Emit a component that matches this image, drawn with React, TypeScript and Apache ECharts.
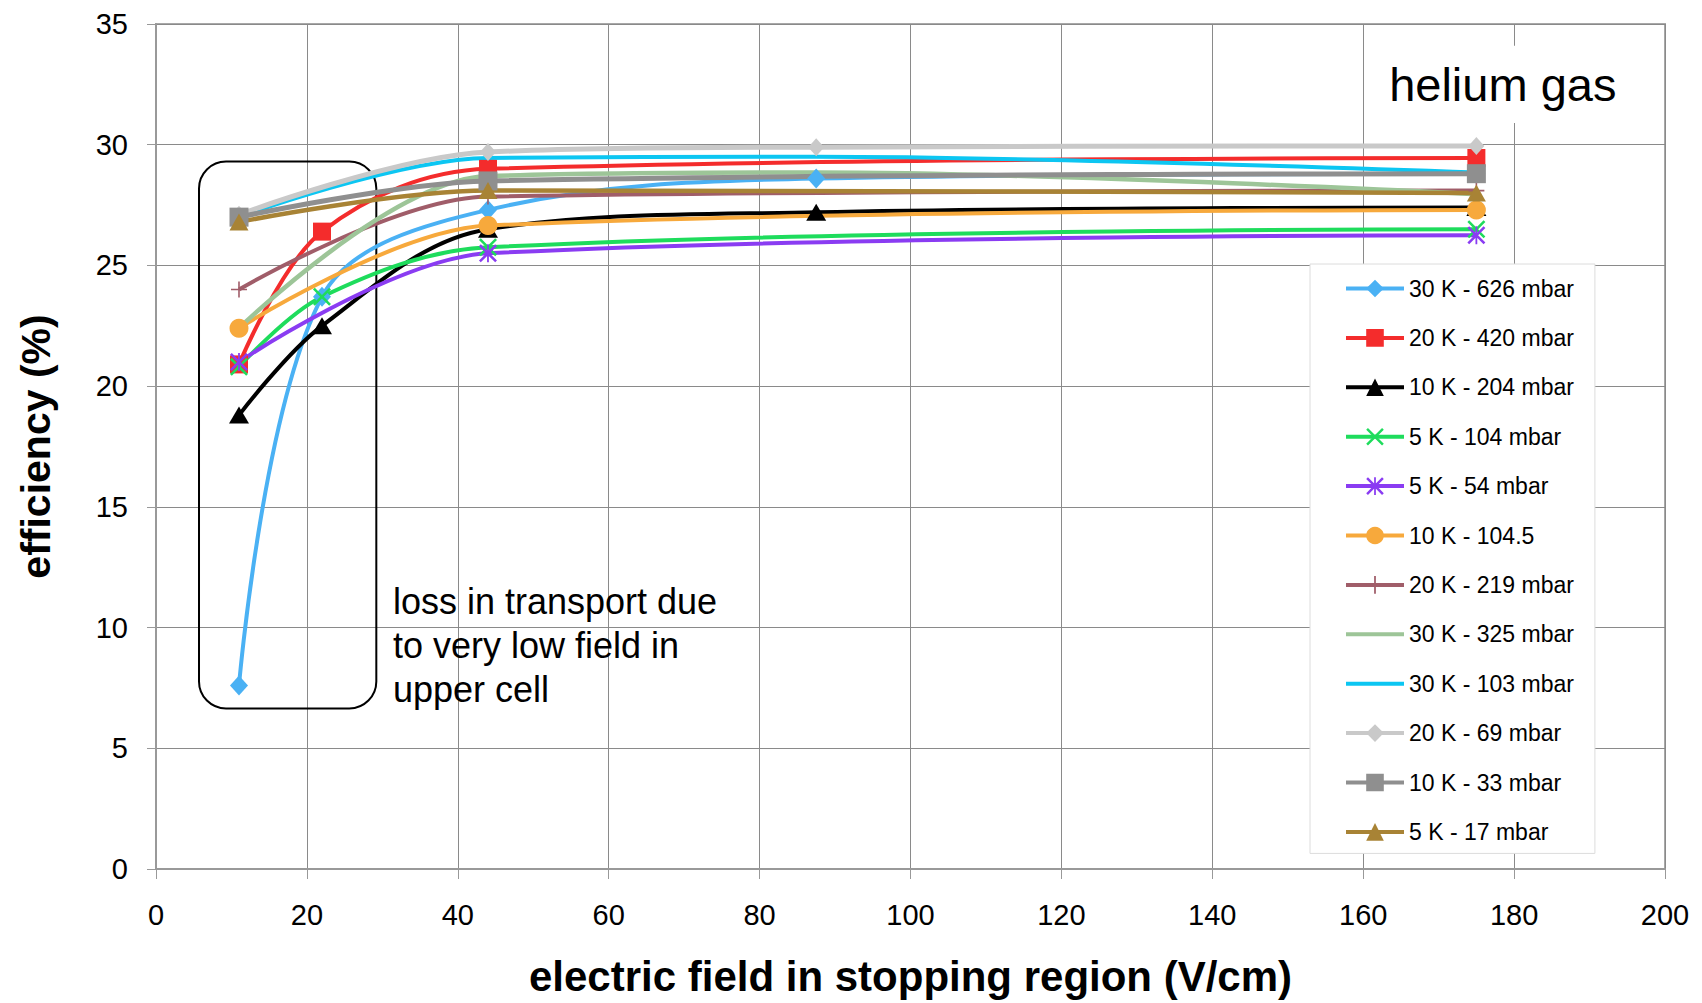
import React, { useEffect, useRef } from "react";
import * as echarts from "echarts";

// Electric field values (V/cm) at which the efficiency was measured
const fieldFull = [11, 22, 44, 87.5, 175];
const fieldMid = [11, 22, 44, 175];
const fieldShort = [11, 44, 175];
const fieldNoMarker = [11, 44, 87.5, 175];

// Efficiency (%) per gas condition
const eff30K626 = [7.6, 23.7, 27.3, 28.6, 28.8];
const eff20K420 = [20.9, 26.4, 29.0, 29.45];
const eff10K204 = [18.8, 22.5, 26.5, 27.2, 27.4];
const eff5K104 = [20.8, 23.7, 25.75, 26.5];
const eff5K54 = [21.0, 25.5, 26.25];
const eff10K1045 = [22.4, 26.65, 27.3];
const eff20K219 = [24.0, 27.85, 28.1];
const eff30K325 = [22.4, 28.7, 28.85, 27.95];
const eff30K103 = [27.0, 29.45, 29.5, 28.85];
const eff20K69 = [27.1, 29.7, 29.9, 29.95];
const eff10K33 = [27.0, 28.5, 28.8];
const eff5K17 = [26.8, 28.1, 28.0];

const yTicks = { min: 0, max: 35, interval: 5 };
const xTicks = { min: 0, max: 200, interval: 20 };

const FONT = "'Liberation Sans', Arial, sans-serif";

// Filled outlines for the stroke-like markers
const crossPath =
  "path://M2,0 L10,8 L18,0 L20,2 L12,10 L20,18 L18,20 L10,12 L2,20 L0,18 L8,10 L0,2 Z";
const asteriskPath =
  "path://M2,0 L10,8 L18,0 L20,2 L12,10 L20,18 L18,20 L10,12 L2,20 L0,18 L8,10 L0,2 Z M9,0 L11,0 L11,20 L9,20 Z";
const plusPath =
  "path://M9,0 L11,0 L11,9 L20,9 L20,11 L11,11 L11,20 L9,20 L9,11 L0,11 L0,9 L9,9 Z";
// Plain line legend icon (tiny corner ticks keep the full icon box)
const plainLineIcon =
  "path://M0,9 L58,9 L58,13 L0,13 Z M0,0 L0.01,0 L0,0.01 Z M58,22 L57.99,22 L58,21.99 Z";

const LINE_W = 4;

function lineSeries(
  name: string,
  xs: number[],
  ys: number[],
  color: string,
  symbol: string,
  symbolSize: number | number[],
  width = LINE_W
) {
  return {
    type: "line",
    name,
    data: xs.map((x, i) => [x, ys[i]]),
    smooth: 0.35,
    symbol,
    symbolSize,
    showSymbol: symbol !== "none",
    lineStyle: { color, width },
    itemStyle: { color, borderWidth: 0 },
    emphasis: { disabled: true },
  };
}

const seriesList = [
  lineSeries("30 K - 626 mbar", fieldFull, eff30K626, "#4AB1F4", "diamond", [18, 20]),
  lineSeries("20 K - 420 mbar", fieldMid, eff20K420, "#F42C2C", "rect", 18),
  lineSeries("10 K - 204 mbar", fieldFull, eff10K204, "#000000", "triangle", [20, 17]),
  lineSeries("5 K - 104 mbar", fieldMid, eff5K104, "#1EDC5C", crossPath, 18),
  lineSeries("5 K - 54 mbar", fieldShort, eff5K54, "#8A3CF2", asteriskPath, 18),
  lineSeries("10 K - 104.5", fieldShort, eff10K1045, "#F7A93C", "circle", 19),
  lineSeries("20 K - 219 mbar", fieldShort, eff20K219, "#A05D69", plusPath, 16),
  lineSeries("30 K - 325 mbar", fieldNoMarker, eff30K325, "#9DC598", "none", 0, 4.5),
  lineSeries("30 K - 103 mbar", fieldNoMarker, eff30K103, "#0CC6F2", "none", 0, 4),
  lineSeries("20 K - 69 mbar", fieldNoMarker, eff20K69, "#C9C9C9", "diamond", [16, 18], 5),
  lineSeries("10 K - 33 mbar", fieldShort, eff10K33, "#8F8F8F", "rect", 19, 5),
  lineSeries("5 K - 17 mbar", fieldShort, eff5K17, "#A88335", "triangle", [19, 17], 4.5),
];

const option = {
  animation: false,
  backgroundColor: "#ffffff",
  textStyle: { fontFamily: FONT, color: "#000" },
  grid: {
    left: 156,
    right: 37,
    top: 24,
    bottom: 134,
    show: true,
    borderColor: "#a8a8a8",
    borderWidth: 2,
  },
  legend: {
    orient: "vertical",
    left: 1310,
    top: 264,
    padding: [13, 21, 10, 34],
    itemWidth: 58,
    itemHeight: 22,
    itemGap: 26.4,
    backgroundColor: "#ffffff",
    borderColor: "#dcdcdc",
    borderWidth: 1,
    selectedMode: false,
    lineStyle: { width: 4 },
    textStyle: { fontFamily: FONT, fontSize: 23, color: "#000", lineHeight: 22 },
    data: seriesList.map((s) =>
      s.symbol === "none" ? { name: s.name, icon: plainLineIcon } : { name: s.name }
    ),
  },
  xAxis: {
    type: "value",
    ...xTicks,
    name: "electric field in stopping region (V/cm)",
    nameLocation: "middle",
    nameGap: 86,
    nameTextStyle: { fontFamily: FONT, fontSize: 42, fontWeight: "bold", color: "#000" },
    axisLine: { show: true, lineStyle: { color: "#999999", width: 2 } },
    axisTick: { show: true, length: 10, lineStyle: { color: "#999999", width: 1 } },
    axisLabel: { fontFamily: FONT, fontSize: 29, color: "#000", margin: 31 },
    splitLine: { show: true, lineStyle: { color: "#8a8a8a", width: 1 } },
  },
  yAxis: {
    type: "value",
    ...yTicks,
    name: "efficiency (%)",
    nameLocation: "middle",
    nameGap: 100,
    nameTextStyle: { fontFamily: FONT, fontSize: 41, fontWeight: "bold", color: "#000" },
    axisLine: { show: true, lineStyle: { color: "#999999", width: 2 } },
    axisTick: { show: true, length: 9, lineStyle: { color: "#999999", width: 1 } },
    axisLabel: { fontFamily: FONT, fontSize: 29, color: "#000", margin: 28 },
    splitLine: { show: true, lineStyle: { color: "#8a8a8a", width: 1 } },
  },
  series: seriesList,
};

// Annotation placement in data units
const lowFieldBox = { x1: 5.7, y1: 29.3, x2: 29.2, y2: 6.65 };
const noteAnchor = { x: 31.4, y: 12 };
const gasBox = { x1: 160.8, y1: 34.1, x2: 199.6, y2: 30.9 };
const gasAnchor = { x: 178.5, y: 32.5 };

export default function App() {
  const ref = useRef<HTMLDivElement>(null);

  useEffect(() => {
    const chart = echarts.init(ref.current!, null, { renderer: "svg" });
    chart.setOption(option as any);

    const px = (x: number, y: number) =>
      chart.convertToPixel({ gridIndex: 0 }, [x, y]) as number[];

    const b1 = px(lowFieldBox.x1, lowFieldBox.y1);
    const b2 = px(lowFieldBox.x2, lowFieldBox.y2);
    const note = px(noteAnchor.x, noteAnchor.y);
    const g1 = px(gasBox.x1, gasBox.y1);
    const g2 = px(gasBox.x2, gasBox.y2);
    const gas = px(gasAnchor.x, gasAnchor.y);

    chart.setOption({
      graphic: [
        {
          type: "rect",
          z: 1,
          shape: { x: b1[0], y: b1[1], width: b2[0] - b1[0], height: b2[1] - b1[1], r: 27 },
          style: { fill: "none", stroke: "#000", lineWidth: 2 },
          silent: true,
        },
        {
          type: "text",
          z: 1,
          x: note[0],
          y: note[1],
          style: {
            text: "loss in transport due\nto very low field in\nupper cell",
            font: `36px ${FONT}`,
            fill: "#000",
            lineHeight: 44,
            verticalAlign: "top",
            align: "left",
          },
          silent: true,
        },
        {
          type: "rect",
          z: 1,
          shape: { x: g1[0], y: g1[1], width: g2[0] - g1[0], height: g2[1] - g1[1] },
          style: { fill: "#ffffff", stroke: "none" },
          silent: true,
        },
        {
          type: "text",
          z: 2,
          x: gas[0],
          y: gas[1],
          style: {
            text: "helium gas",
            font: `47px ${FONT}`,
            fill: "#000",
            align: "center",
            verticalAlign: "middle",
          },
          silent: true,
        },
      ],
    });

    return () => chart.dispose();
  }, []);

  return (
    <div
      ref={ref}
      style={{
        position: "fixed",
        left: 0,
        top: 0,
        width: 1702,
        height: 1003,
        background: "#ffffff",
      }}
    />
  );
}
